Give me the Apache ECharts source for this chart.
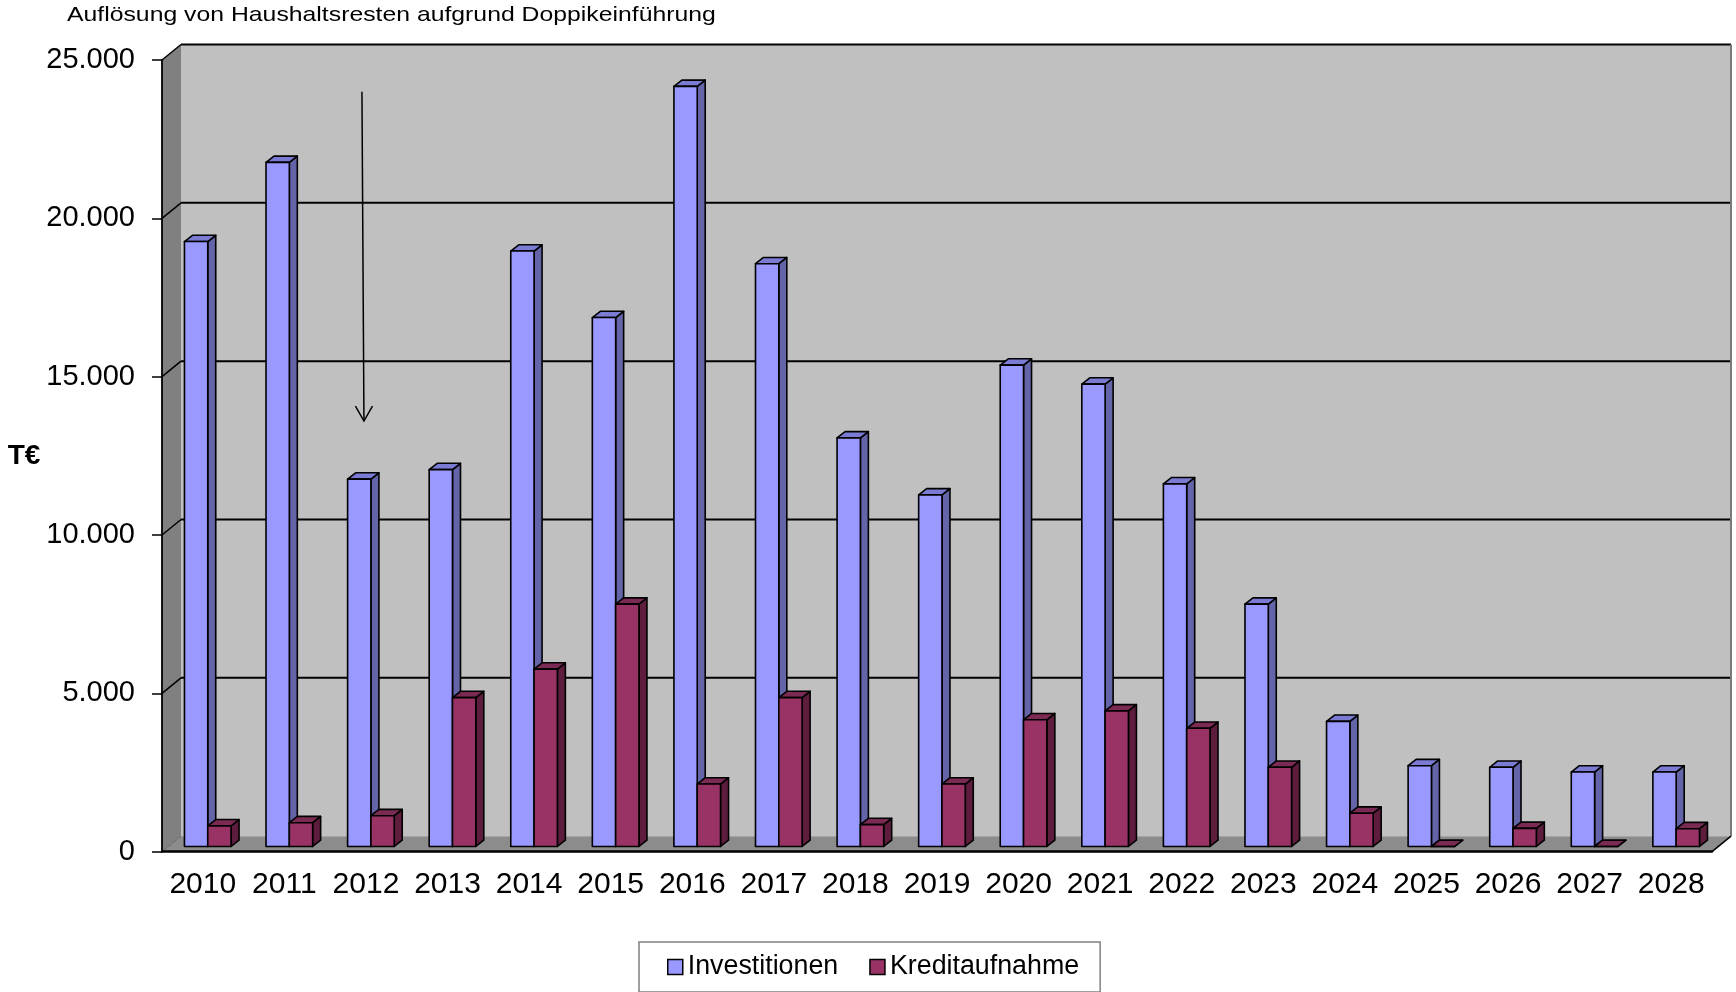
<!DOCTYPE html>
<html>
<head>
<meta charset="utf-8">
<script src="https://cdn.jsdelivr.net/npm/echarts@6/dist/echarts.min.js"></script>
<style>
html,body{margin:0;padding:0;background:#ffffff;}
#chart{width:1736px;height:992px;}
</style>
</head>
<body>
<div id="chart"></div>
<script>
// ---- data ----
const categories = ['2010','2011','2012','2013','2014','2015','2016','2017','2018','2019',
                    '2020','2021','2022','2023','2024','2025','2026','2027','2028'];
const investitionen = [19100, 21600, 11600, 11900, 18800, 16700, 24000, 18400, 12900, 11100,
                       15200, 14600, 11450, 7650, 3950, 2550, 2500, 2350, 2350];
const kreditaufnahme = [650, 750, 970, 4700, 5600, 7650, 1970, 4700, 690, 1970,
                        4000, 4280, 3730, 2500, 1050, 0, 570, 0, 560];
const yTicks = [0, 5000, 10000, 15000, 20000, 25000];
const seriesNames = ['Investitionen', 'Kreditaufnahme'];
const titleText = 'Auflösung von Haushaltsresten aufgrund Doppikeinführung';
const yName = 'T€';
const arrowCategory = '2012';
const arrowValues = [24000, 13600];

// ---- style constants ----
const FONT = '"Liberation Sans", Arial, Helvetica, sans-serif';
const DX = 19, DY = 15.5;          // 3D depth of the plot box
const BAR_F = 0.34;                // depth position of bar front plane
const BDX = 8, BDY = 6.3;          // bar depth
const BAR_W_FRAC = 0.2857;
const colInv = {front:'#9999ff', top:'#7b7bd4', side:'#6464a8'};
const colKred = {front:'#993366', top:'#7b2a54', side:'#5e1d3d'};

function fmt(v){ return String(v).replace(/\B(?=(\d{3})+(?!\d))/g, '.'); }

function renderWalls(params, api){
  const cs = params.coordSys;
  const x0 = cs.x, x1 = cs.x + cs.width;
  const yTop = api.coord([0, yTicks[yTicks.length-1]])[1];
  const yBot = api.coord([0, 0])[1];
  const ch = [];
  ch.push({type:'polygon', shape:{points:[[x0,yTop],[x0+DX,yTop-DY],[x0+DX,yBot-DY],[x0,yBot]]},
           style:{fill:'#808080'}});
  ch.push({type:'rect', shape:{x:x0+DX, y:yTop-DY, width:x1-x0, height:yBot-yTop},
           style:{fill:'#c0c0c0'}});
  ch.push({type:'polygon', shape:{points:[[x0,yBot],[x0+DX,yBot-DY],[x1+DX,yBot-DY],[x1,yBot]]},
           style:{fill:'#8c8c8c'}});
  yTicks.forEach(function(v){
    const y = api.coord([0, v])[1];
    if (v !== 0){
      ch.push({type:'line', shape:{x1:x0+DX, y1:y-DY, x2:x1+DX, y2:y-DY},
               style:{stroke:'#000', lineWidth:2}});
    }
    ch.push({type:'line', shape:{x1:x0, y1:y, x2:x0+DX, y2:y-DY},
             style:{stroke: v === 0 ? '#6a6a6a' : '#000', lineWidth: v === 0 ? 1 : 1.5}});
  });
  ch.push({type:'line', shape:{x1:x1+DX, y1:yTop-DY, x2:x1+DX, y2:yBot-DY},
           style:{stroke:'#7a7a7a', lineWidth:2}});
  ch.push({type:'line', shape:{x1:x1, y1:yBot, x2:x1+DX, y2:yBot-DY},
           style:{stroke:'#000', lineWidth:1.5}});
  return {type:'group', children:ch};
}

function makeBarRenderer(side, col){
  return function(params, api){
    const i = api.value(0), v = api.value(1);
    const top = api.coord([i, v]);
    const base = api.coord([i, 0]);
    const band = api.size([1, 0])[0];
    const bw = band * BAR_W_FRAC;
    const ox = BAR_F * DX - 1.5, oy = -BAR_F * DY;
    const xl = top[0] + ox + (side === 0 ? -bw : 0);
    const xr = xl + bw;
    const yt = top[1] + oy, yb = base[1] + oy;
    const st = {stroke:'#000', lineWidth:1.6, lineJoin:'round'};
    return {type:'group', children:[
      {type:'polygon', shape:{points:[[xr,yt],[xr+BDX,yt-BDY],[xr+BDX,yb-BDY],[xr,yb]]},
       style:Object.assign({fill:col.side}, st)},
      {type:'polygon', shape:{points:[[xl,yt],[xr,yt],[xr+BDX,yt-BDY],[xl+BDX,yt-BDY]]},
       style:Object.assign({fill:col.top}, st)},
      {type:'rect', shape:{x:xl, y:yt, width:bw, height:yb-yt},
       style:Object.assign({fill:col.front}, st)}
    ]};
  };
}

const chart = echarts.init(document.getElementById('chart'), null, {renderer:'canvas'});
const option = {
  animation:false,
  backgroundColor:'#ffffff',
  textStyle:{fontFamily:FONT},
  grid:{left:162, top:60, width:1550, height:791.7, containLabel:false},
  legend:{
    data:seriesNames,
    left:639, top:942,
    orient:'horizontal',
    icon:'rect',
    itemWidth:15, itemHeight:15, itemGap:31,
    padding:[10,21,10,28],
    borderColor:'#808080', borderWidth:1.5,
    itemStyle:{borderColor:'#000', borderWidth:1.5},
    textStyle:{fontSize:26.8, color:'#000', fontFamily:FONT, lineHeight:30}
  },
  xAxis:{
    type:'category', data:categories, z:10,
    axisLine:{show:true, lineStyle:{color:'#000', width:2.5}},
    axisTick:{show:false},
    axisLabel:{fontSize:30, color:'#000', fontFamily:FONT, margin:18, interval:0},
    splitLine:{show:false}
  },
  yAxis:{
    type:'value', min:0, max:25000, interval:5000, z:10,
    name:yName, nameLocation:'middle', nameGap:138, nameRotate:0,
    nameTextStyle:{fontSize:28, fontWeight:'bold', color:'#000', fontFamily:FONT,
                   align:'center', verticalAlign:'middle', padding:[0,0,14,0]},
    axisLine:{show:true, lineStyle:{color:'#000', width:1.8}},
    axisTick:{show:true, length:10, lineStyle:{color:'#000', width:1.5}},
    axisLabel:{fontSize:29, color:'#000', fontFamily:FONT, margin:27, formatter:fmt},
    splitLine:{show:false}
  },
  series:[
    {type:'custom', name:'walls', silent:true, z:1, renderItem:renderWalls, data:[[0,0]],
     encode:{x:0, y:1}},
    {type:'custom', name:seriesNames[0], z:2, renderItem:makeBarRenderer(0, colInv),
     itemStyle:{color:colInv.front},
     data:investitionen.map(function(v,i){return [i,v];}), encode:{x:0, y:1}},
    {type:'custom', name:seriesNames[1], z:3, renderItem:makeBarRenderer(1, colKred),
     itemStyle:{color:colKred.front},
     data:kreditaufnahme.map(function(v,i){return [i,v];}), encode:{x:0, y:1}}
  ]
};
chart.setOption(option);

const pA = chart.convertToPixel({gridIndex:0}, [arrowCategory, arrowValues[0]]);
const pB = chart.convertToPixel({gridIndex:0}, [arrowCategory, arrowValues[1]]);
const ax = pA[0] - 3;
chart.setOption({
  graphic:[
    {type:'text', x:67, y:5, scaleX:1.18, z:20,
     style:{text:titleText, fontSize:21, fill:'#000', fontFamily:FONT, textVerticalAlign:'top'}},
    {type:'line', z:20, shape:{x1:ax-1, y1:pA[1], x2:ax+1, y2:pB[1]},
     style:{stroke:'#000', lineWidth:1.5}},
    {type:'polyline', z:20, shape:{points:[[ax+1-8.5, pB[1]-15],[ax+1, pB[1]],[ax+1+8.5, pB[1]-15]]},
     style:{stroke:'#000', lineWidth:1.5, fill:null}}
  ]
});
</script>
</body>
</html>
